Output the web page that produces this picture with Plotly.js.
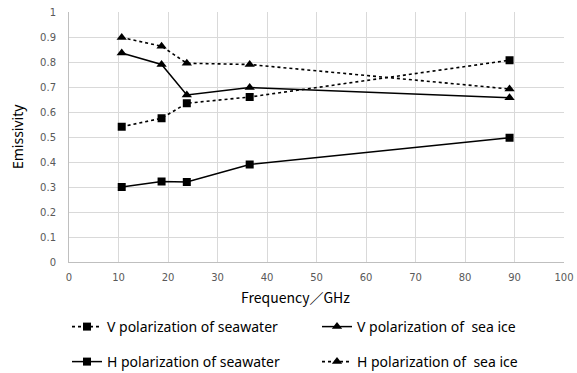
<!DOCTYPE html>
<html><head><meta charset="utf-8">
<script src="https://cdn.plot.ly/plotly-3.0.1.min.js"></script>
<style>body{margin:0;background:#fff}#chart{width:577px;height:373px}</style>
</head><body><div id="chart"></div>
<script>
const freq = [10.65, 18.7, 23.8, 36.5, 89];
const vSeawater = [0.541, 0.575, 0.635, 0.66, 0.807];
const hSeawater = [0.300, 0.322, 0.320, 0.390, 0.497];
const vSeaIce = [0.836, 0.790, 0.668, 0.698, 0.657];
const hSeaIce = [0.898, 0.863, 0.795, 0.790, 0.692];
const names = ["V polarization of seawater", "V polarization of  sea ice", "H polarization of seawater", "H polarization of  sea ice"];

function tr(y, name, dash, symbol, legend){
  return {x: freq, y: y, name: name, type: 'scatter', mode: 'lines+markers',
    line: {color: '#000', width: dash === 'solid' ? 1.5 : 1.6, dash: dash},
    marker: {symbol: symbol, size: symbol === 'square' ? 8 : 9, color: '#000'},
    legend: legend};
}
const data = [
  tr(vSeawater, names[0], 'dot', 'square', 'legend'),
  tr(vSeaIce, names[1], 'solid', 'triangle-up', 'legend2'),
  tr(hSeawater, names[2], 'solid', 'square', 'legend3'),
  tr(hSeaIce, names[3], 'dot', 'triangle-up', 'legend4')
];
const lf = {family: 'Noto Sans, sans-serif', size: 14, color: '#000'};
function leg(x, y){ return {x: x, y: y, xref: 'container', yref: 'container', xanchor: 'left', yanchor: 'middle', font: lf, bgcolor: 'rgba(0,0,0,0)', itemwidth: 30}; }
const layout = {
  width: 577, height: 373,
  margin: {l: 69, r: 13, t: 12, b: 111, autoexpand: false},
  paper_bgcolor: '#fff', plot_bgcolor: '#fff',
  showlegend: true,
  xaxis: {range: [0, 100], dtick: 10, showgrid: true, gridcolor: '#d9d9d9', zeroline: false,
    showline: true, linecolor: '#bfbfbf', ticks: '', ticklabelstandoff: 6, automargin: false,
    tickfont: {family: 'DejaVu Sans, sans-serif', size: 10, color: '#595959'}},
  yaxis: {range: [0, 1], dtick: 0.1, showgrid: true, gridcolor: '#d9d9d9', zeroline: false,
    showline: true, linecolor: '#bfbfbf', ticks: '', ticklabelstandoff: 10, automargin: false,
    tickfont: {family: 'DejaVu Sans, sans-serif', size: 10, color: '#595959'}},
  annotations: [
    {text: 'Emissivity', xref: 'paper', yref: 'paper', x: -0.105, y: 0.5,
      xanchor: 'center', yanchor: 'middle', textangle: -90, showarrow: false,
      font: {family: 'Noto Sans, sans-serif', size: 14, color: '#000'}},
    {text: 'Frequency／GHz', xref: 'paper', yref: 'paper', x: 0.457, y: -0.14,
      xanchor: 'center', yanchor: 'middle', showarrow: false,
      font: {family: 'Noto Sans CJK SC, sans-serif', size: 14, color: '#000'}}
  ],
  legend: leg(67/577, 46/373),
  legend2: leg(317/577, 46/373),
  legend3: leg(67/577, 11/373),
  legend4: leg(317/577, 11/373)
};
Plotly.newPlot('chart', data, layout, {displayModeBar: false});
</script></body></html>
